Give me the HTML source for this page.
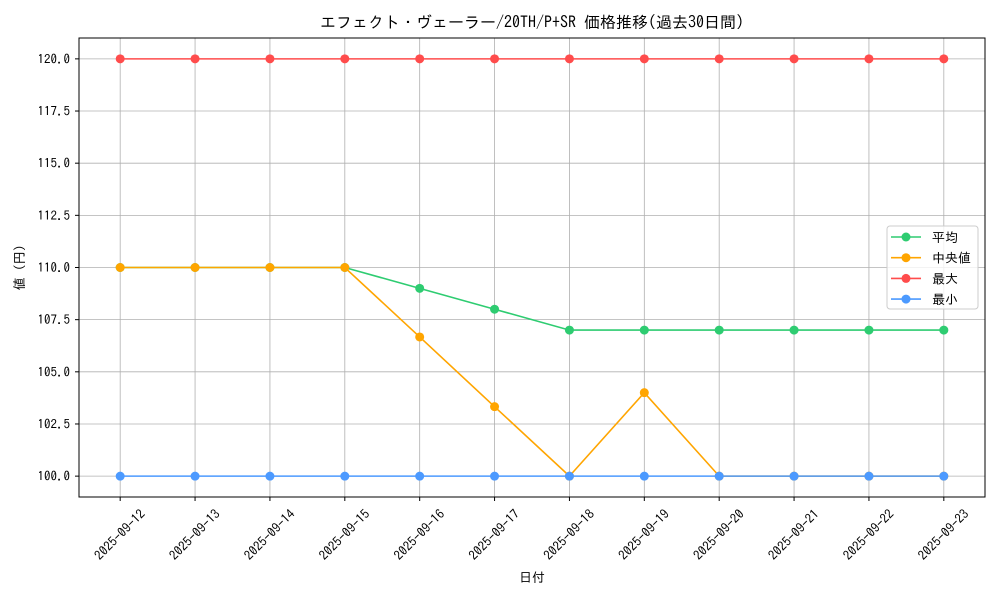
<!DOCTYPE html>
<html><head><meta charset="utf-8"><style>
body{margin:0;background:#fff}
svg text{font-family:"IPAGothic","Noto Sans CJK JP",sans-serif;fill:#000}
</style></head><body>
<svg id="chart" width="1000" height="600"></svg>
<script>
const categories=["2025-09-12","2025-09-13","2025-09-14","2025-09-15","2025-09-16","2025-09-17","2025-09-18","2025-09-19","2025-09-20","2025-09-21","2025-09-22","2025-09-23"];
const avgValues=[110,110,110,110,109,108,107,107,107,107,107,107];
const medianValues=[110,110,110,110,106.67,103.33,100,104,100,100,100,100];
const maxValues=[120,120,120,120,120,120,120,120,120,120,120,120];
const minValues=[100,100,100,100,100,100,100,100,100,100,100,100];
const yTicks=[100,102.5,105,107.5,110,112.5,115,117.5,120];
const seriesNames=["平均","中央値","最大","最小"];
const seriesColors=["#2ecc71","#ffa500","#ff4c4c","#4c9aff"];
const NS="http://www.w3.org/2000/svg";
const svg=document.getElementById('chart');
const L=79,R=985,T=38,B=497;
const yMin=99,yMax=121;
const n=categories.length;
const xs=i=>L+(R-L)*(i+0.55)/(n-1+1.1);
const ys=v=>B-(v-yMin)/(yMax-yMin)*(B-T);
function mk(tag,a,parent){const e=document.createElementNS(NS,tag);for(const k in a)e.setAttribute(k,a[k]);(parent||svg).appendChild(e);return e;}
const grid=mk('g',{});


categories.forEach((c,i)=>{mk('line',{x1:xs(i),x2:xs(i),y1:T,y2:B,stroke:'#b0b0b0','stroke-width':0.8},grid);});
yTicks.forEach(v=>{mk('line',{x1:L,x2:R,y1:ys(v),y2:ys(v),stroke:'#b0b0b0','stroke-width':0.8},grid);});
const xa=mk('g',{});


categories.forEach((c,i)=>{const x=xs(i);mk('line',{x1:x,x2:x,y1:B,y2:B+4,stroke:'#000'},xa);
const cy=B+38;
const t=mk('text',{x:x,y:cy+4,'font-size':13,'text-anchor':'middle',transform:`rotate(-45 ${x} ${cy})`},xa);t.textContent=c;});
const ya=mk('g',{});


yTicks.forEach(v=>{const y=ys(v);mk('line',{x1:L-4,x2:L,y1:y,y2:y,stroke:'#000'},ya);
const t=mk('text',{x:L-9,y:y+4.5,'font-size':13,'text-anchor':'end'},ya);t.textContent=v.toFixed(1);});
const all=[avgValues,medianValues,maxValues,minValues];
[0,1,2,3].forEach(si=>{const g=mk('g',{});


const vals=all[si];
mk('polyline',{points:vals.map((v,i)=>xs(i)+','+ys(v)).join(' '),fill:'none',stroke:seriesColors[si],'stroke-width':1.6},g);
vals.forEach((v,i)=>{const c=mk('circle',{cx:xs(i),cy:ys(v),r:4.5,fill:seriesColors[si]},g);

});});
mk('rect',{x:L,y:T,width:R-L,height:B-T,fill:'none',stroke:'#000','stroke-width':1});
const tt=mk('text',{x:(L+R)/2,y:28,'font-size':16,'text-anchor':'middle'});tt.textContent='エフェクト・ヴェーラー/20TH/P+SR 価格推移(過去30日間)';


const xl=mk('text',{x:(L+R)/2,y:582,'font-size':13,'text-anchor':'middle'});xl.textContent='日付';


const yl=mk('text',{x:24,y:(T+B)/2,'font-size':13,'text-anchor':'middle',transform:`rotate(-90 24 ${(T+B)/2})`});yl.textContent='値 (円)';


const lg=mk('g',{});


mk('rect',{x:887,y:226,width:91,height:83,rx:3,fill:'#fff','fill-opacity':0.8,stroke:'#ccc'},lg);
seriesNames.forEach((s,i)=>{const y=237+i*20.7;
const e=mk('g',{},lg);


mk('line',{x1:891,x2:921,y1:y,y2:y,stroke:seriesColors[i],'stroke-width':1.6},e);
mk('circle',{cx:906,cy:y,r:4.5,fill:seriesColors[i]},e);
const t=mk('text',{x:932,y:y+5,'font-size':13},e);t.textContent=s;});
</script>
</body></html>
